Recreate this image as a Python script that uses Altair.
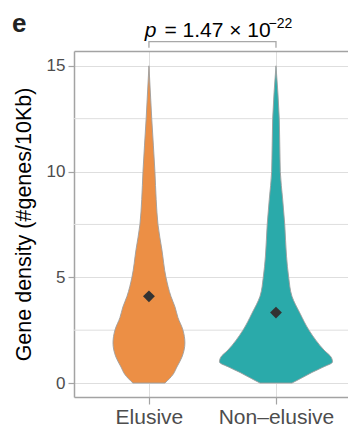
import altair as alt
import pandas as pd

# ---------------- data ----------------
categories = ["Elusive", "Non–elusive"]
cat_pos = [1, 2]
colors = ["#EC8F45", "#2AAAAA"]

# violin outlines: density value (y) and half-width (in category units)
elusive_y = [0, 0.4, 0.76, 1.23, 1.9, 2.5, 3.1, 3.6, 4.1, 5.0, 6.3, 7.5, 8.67, 10, 12.5, 15]
elusive_hw = [0.126, 0.189, 0.220, 0.260, 0.283, 0.268, 0.228, 0.205, 0.173, 0.134,
              0.102, 0.071, 0.057, 0.047, 0.022, 0.0]
nonelusive_y = [0, 0.25, 0.5, 0.75, 1.0, 1.2, 1.56, 2.5, 3.3, 4.1, 5.0, 6.0, 7.5, 8.67, 10, 12.5, 15]
nonelusive_hw = [0.126, 0.205, 0.283, 0.370, 0.445, 0.437, 0.378, 0.260, 0.189, 0.126,
                 0.100, 0.083, 0.069, 0.053, 0.034, 0.026, 0.0]

means = [4.1, 3.33]

y_major = [0, 5, 10, 15]
y_minor = [2.5, 7.5, 12.5]

bracket_x = [1, 1, 2, 2]
bracket_y = [15.85, 16.14, 16.14, 15.85]

p_symbol = "p"
p_text = "= 1.47 × 10"
p_exponent = "−22"
p_pos = [1.5, 16.37]

panel_letter = "e"
y_title = "Gene density (#genes/10Kb)"

# ---------------- tables ----------------
def violin_table(cat, pos, ys, hws):
    return pd.DataFrame({"cat": cat, "y": ys,
                         "lo": [pos - h for h in hws], "hi": [pos + h for h in hws]})

vdf_e = violin_table(categories[0], cat_pos[0], elusive_y, elusive_hw)
vdf_n = violin_table(categories[1], cat_pos[1], nonelusive_y, nonelusive_hw)
mean_df = pd.DataFrame({"cat": categories, "pos": cat_pos, "y": means})
minor_df = pd.DataFrame({"y": y_minor})
bracket_df = pd.DataFrame({"x": bracket_x, "y": bracket_y, "i": range(len(bracket_x))})
ptext_df = pd.DataFrame({"x": [p_pos[0]], "y": [p_pos[1]]})

FONT = "Liberation Sans"
GRID = "#DEDEDE"
AXC = "#A3A3A3"

xscale = alt.Scale(domain=[0.41, 2.567], nice=False, zero=False)
yscale = alt.Scale(domain=[-0.66, 15.7], nice=False, zero=False)

yaxis = alt.Axis(values=y_major, grid=True, gridColor=GRID, gridWidth=1,
                 domainColor=AXC, domainWidth=1.5, tickColor=AXC, tickSize=6, tickWidth=1.2,
                 labelFontSize=17, labelColor="#4D4D4D", labelPadding=3,
                 title=y_title, titleFontSize=21.5, titleFontWeight="normal",
                 titleColor="#000000", titlePadding=11)

xaxis = alt.Axis(values=cat_pos, grid=True, gridColor=GRID, gridWidth=1,
                 labelExpr=f"datum.value == 1 ? '{categories[0]}' : '{categories[1]}'",
                 domainColor=AXC, domainWidth=1.5, tickColor=AXC, tickSize=7,
                 tickWidth=1.2, labelFontSize=21, labelColor="#4D4D4D",
                 labelPadding=2, title=None)


def Y(field):
    return alt.Y(f"{field}:Q", scale=yscale, axis=yaxis)


minor = alt.Chart(minor_df).mark_rule(color=GRID, strokeWidth=1).encode(y=Y("y"))


def violin(df, color, axis):
    return alt.Chart(df).mark_area(orient="horizontal", interpolate="monotone",
                                   stroke="#9E9E9E", strokeWidth=0.9, fill=color,
                                   fillOpacity=1).encode(
        y=Y("y"),
        x=alt.X("lo:Q", scale=xscale, axis=axis),
        x2="hi:Q",
    )


v_e = violin(vdf_e, colors[0], xaxis)
v_n = violin(vdf_n, colors[1], None)

mean_pts = alt.Chart(mean_df).mark_point(shape="diamond", filled=True, size=140,
                                         color="#333333", opacity=1).encode(
    x=alt.X("pos:Q", scale=xscale, axis=None),
    y=Y("y"),
)

bracket = alt.Chart(bracket_df).mark_line(color="#A8A8A8", strokeWidth=1.3).encode(
    x=alt.X("x:Q", scale=xscale,
            axis=alt.Axis(orient="top", labels=False, ticks=False, grid=False,
                          domain=True, domainColor=AXC, domainWidth=1.5, title=None)),
    y=Y("y"),
    order="i:Q",
)

p_sym = alt.Chart(ptext_df).mark_text(text=p_symbol, font=FONT, fontSize=21,
                                      fontStyle="italic", align="right",
                                      baseline="alphabetic", dx=-56, color="#000").encode(
    x=alt.X("x:Q", scale=xscale, axis=None), y=Y("y"))
p_main = alt.Chart(ptext_df).mark_text(text=p_text, font=FONT, fontSize=21,
                                       align="left", baseline="alphabetic", dx=-48,
                                       color="#000").encode(
    x=alt.X("x:Q", scale=xscale, axis=None), y=Y("y"))
p_exp = alt.Chart(ptext_df).mark_text(text=p_exponent, font=FONT, fontSize=14,
                                      align="left", baseline="alphabetic", dx=56, dy=-9,
                                      color="#000").encode(
    x=alt.X("x:Q", scale=xscale, axis=None), y=Y("y"))

chart = alt.layer(minor, v_e, v_n, mean_pts, bracket, p_sym, p_main, p_exp).resolve_axis(
    x="independent"
).properties(
    width=274, height=346,
    autosize=alt.AutoSizeParams(type="none"),
    padding={"left": 74, "top": 51, "right": 0, "bottom": 30},
    title=alt.TitleParams(panel_letter, anchor="start", frame="group", fontSize=26,
                          fontWeight="bold", color="#222222", font=FONT, dx=-62, dy=24),
).configure(font=FONT).configure_view(stroke=None)

chart.save("out.html", embed_options={"renderer": "svg", "actions": False})
